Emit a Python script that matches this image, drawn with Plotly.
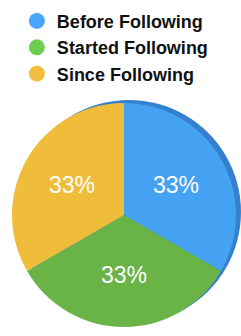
import plotly.graph_objects as go

labels = ["Before Following", "Started Following", "Since Following"]
values = [1, 1, 1]
slice_colors = ["#45A2F3", "#6AB347", "#F0BD3B"]
rim_colors = ["#3580CC", "#3580CC", "#3580CC"]
legend_colors = ["#4AA5FF", "#6DCF50", "#F3BE40"]

W, H = 241, 336

def dom(cx, cy, r):
    return dict(x=[(cx - r) / W, (cx + r) / W], y=[1 - (cy + r) / H, 1 - (cy - r) / H])

fig = go.Figure()
# darker rim behind (3D edge)
fig.add_trace(go.Pie(
    labels=labels, values=values, sort=False, direction="clockwise", rotation=0,
    marker=dict(colors=rim_colors, line=dict(width=0)),
    textinfo="none", hoverinfo="skip", showlegend=False,
    domain=dom(129, 212, 112),
))
fig.add_trace(go.Pie(
    labels=labels, values=values, sort=False, direction="clockwise", rotation=0,
    marker=dict(colors=slice_colors, line=dict(width=0)),
    texttemplate="%{percent:.0%}", textposition="inside",
    insidetextfont=dict(color="white", size=23, family="Liberation Sans, Arial, sans-serif"),
    showlegend=False, hoverinfo="label+percent",
    domain=dom(124, 215, 112),
))
for lab, col in zip(labels, legend_colors):
    fig.add_trace(go.Scatter(x=[None], y=[None], mode="markers", name=lab,
                             marker=dict(symbol="circle", size=16, color=col)))

fig.update_layout(
    width=W, height=H, margin=dict(l=0, r=0, t=0, b=0),
    paper_bgcolor="white", plot_bgcolor="white",
    xaxis=dict(visible=False), yaxis=dict(visible=False),
    legend=dict(x=0.07, y=0.992, xanchor="left", yanchor="top",
                font=dict(family="Liberation Sans, Arial, sans-serif", size=18, color="#111111", weight="bold"),
                itemsizing="trace", bgcolor="rgba(0,0,0,0)", tracegroupgap=0),
)
fig.write_html("out.html", config={"displayModeBar": False},
               post_script="document.body.style.margin='0';")
